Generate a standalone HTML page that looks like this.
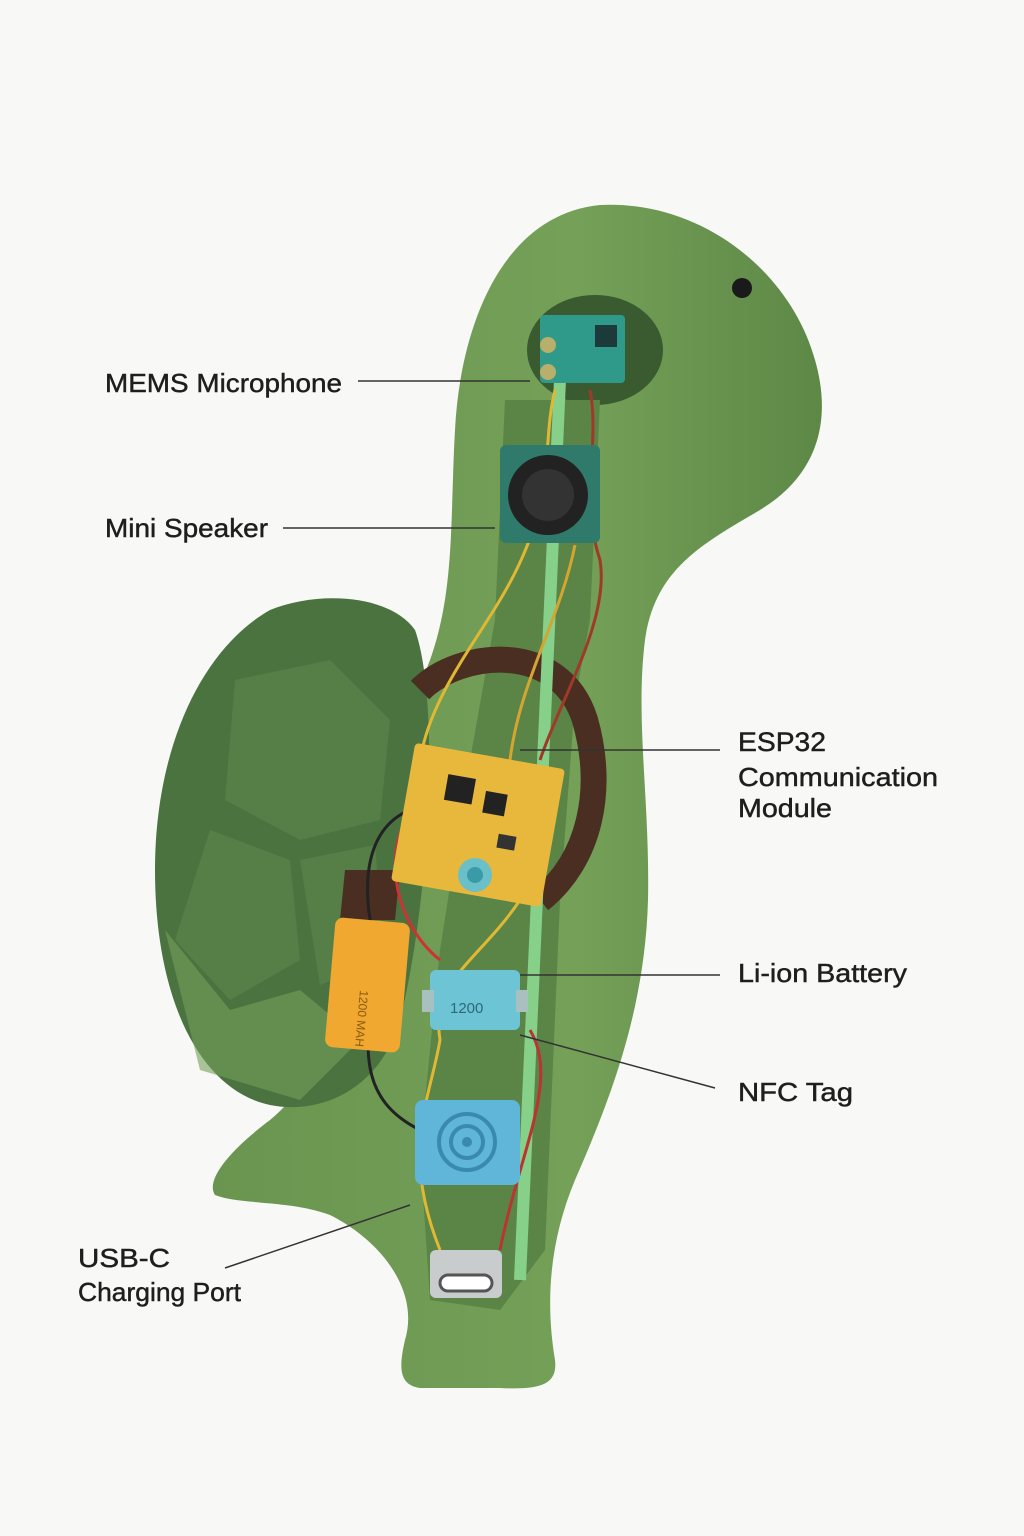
<!DOCTYPE html>
<html><head><meta charset="utf-8"><style>
html,body{margin:0;padding:0;background:#f8f8f6;}
svg{display:block}
text{font-family:"Liberation Sans",sans-serif;fill:#1e1e1e;stroke:#1e1e1e;stroke-width:0.45}
</style></head><body>
<svg width="1024" height="1536" viewBox="0 0 1024 1536" xmlns="http://www.w3.org/2000/svg">
<defs>
<linearGradient id="bg" x1="0" y1="0" x2="1" y2="0">
<stop offset="0" stop-color="#6a9550"/><stop offset="0.6" stop-color="#74a058"/><stop offset="1" stop-color="#5d8846"/>
</linearGradient>
</defs>
<rect width="1024" height="1536" fill="#f8f8f6"/>
<path d="M600 205 C700 200 790 270 815 360 C835 430 810 480 760 510 C700 545 655 570 645 640 C635 720 650 800 648 900 C645 1010 610 1100 575 1180 C550 1240 545 1300 555 1360 C558 1385 540 1390 500 1388 L420 1388 C400 1385 398 1370 405 1340 C420 1290 380 1240 330 1215 C290 1200 240 1205 215 1195 C205 1180 230 1150 270 1120 C320 1080 340 1000 345 920 C350 820 400 740 430 660 C455 590 450 520 455 430 C460 330 500 215 600 205 Z" fill="url(#bg)"/>
<path d="M270 610 C320 590 390 595 415 630 C440 700 430 900 400 1020 C380 1090 320 1115 270 1105 C200 1090 155 1000 155 870 C155 750 200 650 270 610 Z" fill="#4a7340"/>
<path d="M235 680 L330 660 L390 720 L380 820 L300 840 L225 800 Z" fill="#557f47"/>
<path d="M210 830 L290 860 L300 960 L230 1000 L175 940 Z" fill="#557f47"/>
<path d="M300 860 L375 845 L385 960 L320 985 Z" fill="#557f47"/>
<path d="M165 930 L230 1010 L300 990 L360 1040 L300 1100 L200 1070 Z" fill="#74a05a" opacity="0.6"/>
<circle cx="742" cy="288" r="10" fill="#1a1a1a"/>
<ellipse cx="595" cy="350" rx="68" ry="55" fill="#3a5a30"/>
<path d="M505 400 L600 400 L590 620 L575 700 L560 900 L545 1250 L500 1310 L430 1300 L420 1150 L440 950 L470 760 L495 620 Z" fill="#5a8546"/>
<path d="M420 690 C460 650 560 640 585 720 C605 790 590 860 540 900" fill="none" stroke="#4a2e22" stroke-width="26"/>
<path d="M345 870 L400 870 L395 920 L340 920 Z" fill="#4a2e22"/>
<path d="M560 380 L520 1280" stroke="#86d08a" stroke-width="12" fill="none"/>
<g fill="none" stroke-width="3">
<path d="M555 390 C540 450 560 500 500 600 C470 650 430 700 420 760" stroke="#e0b833"/>
<path d="M590 390 C600 440 580 500 600 560 C610 620 560 700 540 760" stroke="#a03a28"/>
<path d="M575 545 C560 620 520 680 510 760" stroke="#d4a530"/>
<path d="M410 810 C360 830 360 900 380 960 C360 1050 360 1100 420 1130" stroke="#222"/>
<path d="M420 800 C380 840 390 920 440 960" stroke="#c33"/>
<path d="M520 900 C480 960 430 980 440 1040 C430 1100 400 1150 440 1250" stroke="#e0b833"/>
<path d="M530 1030 C560 1080 520 1150 500 1250" stroke="#b33"/>
</g>
<rect x="540" y="315" width="85" height="68" rx="4" fill="#2f9a8a"/>
<rect x="595" y="325" width="22" height="22" fill="#1c3a3a"/>
<circle cx="548" cy="345" r="8" fill="#b8b06a"/>
<circle cx="548" cy="372" r="8" fill="#b8b06a"/>
<rect x="500" y="445" width="100" height="98" rx="6" fill="#2f7a6a"/>
<circle cx="548" cy="495" r="40" fill="#222"/>
<circle cx="548" cy="495" r="26" fill="#333"/>
<g transform="rotate(10 478 825)">
<rect x="402" y="755" width="152" height="140" rx="4" fill="#e8b83c"/>
<rect x="440" y="780" width="28" height="26" fill="#222"/>
<rect x="480" y="790" width="22" height="22" fill="#222"/>
<rect x="500" y="830" width="18" height="14" fill="#333"/>
</g>
<circle cx="475" cy="875" r="17" fill="#6ac0c8"/>
<circle cx="475" cy="875" r="8" fill="#3a9aa8"/>
<rect x="330" y="920" width="75" height="130" rx="8" fill="#f0a830" transform="rotate(5 367 985)"/>
<text x="360" y="990" font-size="12" transform="rotate(95 360 990)" style="fill:#8a5a10;stroke:none">1200 MAH</text>
<rect x="430" y="970" width="90" height="60" rx="6" fill="#6cc4d4"/>
<rect x="422" y="990" width="12" height="22" fill="#a8c0c0"/>
<rect x="516" y="990" width="12" height="22" fill="#a8c0c0"/>
<text x="450" y="1013" font-size="15" style="fill:#2a6a7a;stroke:none">1200</text>
<rect x="415" y="1100" width="105" height="85" rx="8" fill="#5fb6d8"/>
<circle cx="467" cy="1142" r="28" fill="none" stroke="#3a8ab0" stroke-width="4"/>
<circle cx="467" cy="1142" r="16" fill="none" stroke="#3a8ab0" stroke-width="4"/>
<circle cx="467" cy="1142" r="5" fill="#3a8ab0"/>
<rect x="430" y="1250" width="72" height="48" rx="6" fill="#c8cccc"/>
<rect x="440" y="1275" width="52" height="16" rx="8" fill="#fff" stroke="#555" stroke-width="3"/>
<g stroke="#333" stroke-width="1.5">
<line x1="358" y1="381" x2="530" y2="381"/>
<line x1="283" y1="528" x2="495" y2="528"/>
<line x1="720" y1="750" x2="520" y2="750"/>
<line x1="720" y1="975" x2="520" y2="975"/>
<line x1="715" y1="1088" x2="520" y2="1035"/>
<line x1="225" y1="1268" x2="410" y2="1205"/>
</g>
<text x="105" y="392" font-size="26" textLength="237" lengthAdjust="spacingAndGlyphs">MEMS Microphone</text>
<text x="105" y="537" font-size="26" textLength="163" lengthAdjust="spacingAndGlyphs">Mini Speaker</text>
<text x="738" y="751" font-size="27" textLength="88" lengthAdjust="spacingAndGlyphs">ESP32</text>
<text x="738" y="786" font-size="26" textLength="200" lengthAdjust="spacingAndGlyphs">Communication</text>
<text x="738" y="817" font-size="26" textLength="94" lengthAdjust="spacingAndGlyphs">Module</text>
<text x="738" y="982" font-size="26" textLength="169" lengthAdjust="spacingAndGlyphs">Li-ion Battery</text>
<text x="738" y="1101" font-size="26" textLength="115" lengthAdjust="spacingAndGlyphs">NFC Tag</text>
<text x="78" y="1267" font-size="26" textLength="92" lengthAdjust="spacingAndGlyphs">USB-C</text>
<text x="78" y="1301" font-size="26" textLength="163" lengthAdjust="spacingAndGlyphs">Charging Port</text>
</svg>
</body></html>
